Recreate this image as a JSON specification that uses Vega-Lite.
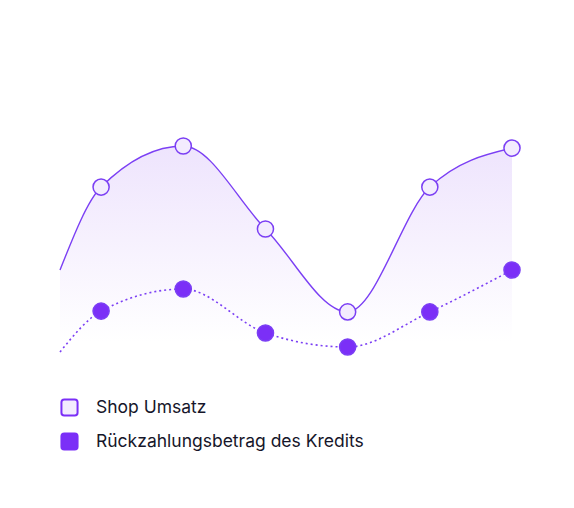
{
  "$schema": "https://vega.github.io/schema/vega-lite/v6.json",
  "width": 452,
  "height": 260,
  "autosize": {"type": "none"},
  "padding": {"left": 60, "top": 100, "right": 62, "bottom": 148},
  "background": "white",
  "data": {
    "values": [
      {"step": 0.5, "value": 34.6, "series": "Shop Umsatz"},
      {"step": 1, "value": 66.5, "series": "Shop Umsatz"},
      {"step": 2, "value": 82.3, "series": "Shop Umsatz"},
      {"step": 3, "value": 50.4, "series": "Shop Umsatz"},
      {"step": 4, "value": 18.5, "series": "Shop Umsatz"},
      {"step": 5, "value": 66.5, "series": "Shop Umsatz"},
      {"step": 6, "value": 81.5, "series": "Shop Umsatz"},
      {"step": 0.5, "value": 3.1, "series": "Rückzahlungsbetrag des Kredits"},
      {"step": 1, "value": 18.8, "series": "Rückzahlungsbetrag des Kredits"},
      {"step": 2, "value": 27.3, "series": "Rückzahlungsbetrag des Kredits"},
      {"step": 3, "value": 10.4, "series": "Rückzahlungsbetrag des Kredits"},
      {"step": 4, "value": 5.0, "series": "Rückzahlungsbetrag des Kredits"},
      {"step": 5, "value": 18.5, "series": "Rückzahlungsbetrag des Kredits"},
      {"step": 6, "value": 34.6, "series": "Rückzahlungsbetrag des Kredits"}
    ]
  },
  "encoding": {
    "x": {"field": "step", "type": "quantitative", "scale": {"domain": [0.5, 6], "nice": false, "zero": false}, "axis": null},
    "y": {"field": "value", "type": "quantitative", "scale": {"domain": [0, 100], "nice": false}, "axis": null}
  },
  "layer": [
    {
      "transform": [{"filter": {"field": "series", "equal": "Shop Umsatz"}}],
      "mark": {
        "type": "area",
        "interpolate": "monotone",
        "fill": {
          "gradient": "linear",
          "x1": 0, "y1": 0, "x2": 0, "y2": 1,
          "stops": [
            {"offset": 0, "color": "#eee4fd"},
            {"offset": 1, "color": "#ffffff"}
          ]
        }
      },
      "encoding": {"y2": {"datum": 7}}
    },
    {
      "transform": [{"filter": {"field": "series", "equal": "Shop Umsatz"}}],
      "mark": {"type": "line", "interpolate": "monotone", "color": "#7b3ff4", "strokeWidth": 1.4}
    },
    {
      "transform": [{"filter": {"field": "series", "equal": "Rückzahlungsbetrag des Kredits"}}],
      "mark": {"type": "line", "interpolate": "monotone", "color": "#7b3ff4", "strokeWidth": 1.6, "strokeDash": [2, 3]}
    },
    {
      "transform": [{"filter": "datum.step >= 1"}],
      "mark": {"type": "point", "shape": "circle", "filled": true, "size": 260, "stroke": "#7b3ff4", "strokeWidth": 1.5, "opacity": 1},
      "encoding": {
        "fill": {
          "field": "series",
          "type": "nominal",
          "scale": {"domain": ["Shop Umsatz", "Rückzahlungsbetrag des Kredits"], "range": ["#f3ecfe", "#7b2ff7"]},
          "legend": {
            "title": null,
            "orient": "none",
            "legendX": 0,
            "legendY": 298,
            "padding": 0,
            "symbolType": "M-0.65,-1H0.65A0.35,0.35 0 0 1 1,-0.65V0.65A0.35,0.35 0 0 1 0.65,1H-0.65A0.35,0.35 0 0 1 -1,0.65V-0.65A0.35,0.35 0 0 1 -0.65,-1Z",
            "symbolSize": 260,
            "symbolStrokeColor": "#7b2ff7",
            "symbolStrokeWidth": 2,
            "symbolOpacity": 1,
            "labelFont": "Inter",
            "labelFontSize": 17.5,
            "labelColor": "#16162a",
            "labelOffset": 17,
            "labelLimit": 400,
            "rowPadding": 9
          }
        }
      }
    }
  ],
  "config": {
    "view": {"stroke": null}
  }
}
